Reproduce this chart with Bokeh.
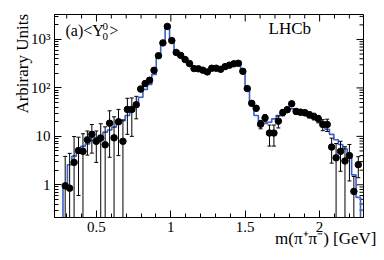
import numpy as np
from bokeh.plotting import figure
from bokeh.models import Range1d, FixedTicker, Label
from bokeh.embed import file_html
from bokeh.resources import INLINE

# ---- data: <Y_0^0> moment vs m(pi+ pi-) -------------------------------
m_first_edge = 0.275      # GeV, lower edge of first bin
bin_width = 0.02985       # GeV

moment_data = [0.95, 0.85, 2.9, 5.1, 4.9, 8.5, 11, 7.9, 9.2, 6.7,
               18.7, 9.3, 20, 7.9, 36, 36, 45, 95, 123, 144,
               231, 462, 850, 1860, 950, 540, 470, 385, 318, 251,
               248, 232, 214, 255, 255, 242, 275, 295, 315, 322,
               220, 97, 48, 38, 17.8, 24, 11.7, 11.7, 20.6, 31,
               35.5, 47, 32.7, 31.6, 30.7, 27.9, 25.8, 23, 17.6, 17.6,
               6.0, 3.6, 4.9, 3.1, 4.0, 0.73, 2.6]

moment_err = [2.9, 3.6, 7, 4.5, 6.4, 4.4, 6.5, 5, 9, 9,
              15, 16, 16, 14, 25, 26, 22, 12, 14, 14,
              18, 25, 35, 50, 35, 25, 22, 20, 18, 15,
              15, 14, 13, 14, 14, 14, 15, 15, 16, 16,
              14, 8, 5, 4.5, 3.5, 4, 5.4, 5.4, 5.7, 4.5,
              4.5, 5, 4, 4, 4, 4, 4, 4, 4.5, 5,
              3.2, 3.5, 3.0, 3.0, 2.8, 0.75, 1.2]

moment_fit = [0.95, 2.6, 3.9, 5.3, 6.2, 7.0, 8.2, 9.3, 10.4, 12.2,
              13.5, 15.5, 18, 21, 27, 35, 45, 64, 93, 118,
              190, 420, 830, 1850, 940, 530, 455, 375, 305, 255,
              240, 228, 222, 230, 240, 252, 268, 285, 300, 310,
              215, 100, 48, 27, 17.6, 18.5, 19.6, 23, 27, 31,
              35, 37, 36, 34, 31.5, 29, 26, 22.5, 18.5, 14,
              11, 8.5, 6.8, 5.5, 4.0, 1.6, 0.55]

x_major = [0.5, 1.0, 1.5, 2.0]
y_major = [1, 10, 100, 1000]
y_labels = {1: "1", 10: "10", 100: "10\u00b2", 1000: "10\u00b3"}

# ---- layout -----------------------------------------------------------
W, H = 384, 260
BL, BR, BT, BB = 54, 21, 14, 43
X0, X1 = 0.218, 2.295
Y0, Y1 = 0.211, 3280.0
MAJ, MIN = 7, 4
FONT = "Liberation Serif"

# ---- derived ------------------------------------------------------------
n = len(moment_data)
edges = m_first_edge + bin_width * np.arange(n + 1)
centers = 0.5 * (edges[:-1] + edges[1:])
data = np.array(moment_data, dtype=float)
err = np.array(moment_err, dtype=float)
floor = 1e-3
lo = np.where(data - err > 0, data - err, floor)
hi = data + err

step_x = np.repeat(edges, 2)
step_y = np.concatenate([[floor], np.repeat(np.array(moment_fit, float), 2), [floor]])

x_minor = [round(0.1 * i, 1) for i in range(3, 23) if round(0.1 * i, 1) not in x_major]
y_minor = [m * 10.0 ** e for e in range(-1, 4) for m in range(2, 10)]

p = figure(width=W, height=H,
           x_range=Range1d(X0, X1), y_range=Range1d(Y0, Y1),
           y_axis_type="log", output_backend="svg", toolbar_location=None,
           min_border_left=BL, min_border_right=BR, min_border_top=BT,
           min_border_bottom=BB)
p.xgrid.visible = False
p.ygrid.visible = False
p.outline_line_color = "black"
p.outline_line_width = 1
p.background_fill_color = "white"
p.border_fill_color = "white"

xt = FixedTicker(ticks=x_major, minor_ticks=x_minor)
yt = FixedTicker(ticks=y_major, minor_ticks=y_minor)

for ax in (p.xaxis[0], p.yaxis[0]):
    ax.major_tick_in = MAJ
    ax.major_tick_out = 0
    ax.minor_tick_in = MIN
    ax.minor_tick_out = 0
    ax.axis_line_color = "black"
    ax.major_tick_line_color = "black"
    ax.minor_tick_line_color = "black"
    ax.major_label_text_font = FONT
    ax.major_label_text_color = "black"
    ax.major_label_text_font_size = "15px"
    ax.major_label_standoff = 4
p.xaxis[0].ticker = xt
p.yaxis[0].ticker = yt
p.yaxis[0].major_label_overrides = y_labels

# mirrored ticks on the top and right edges of the frame
fw = W - BL - BR
fh = H - BT - BB
px_per_x = fw / (X1 - X0)
px_per_dec = fh / np.log10(Y1 / Y0)
tx = list(x_major) + list(x_minor)
tlen = [MAJ] * len(x_major) + [MIN] * len(x_minor)
p.segment(x0=tx, y0=[Y1] * len(tx), x1=tx,
          y1=[Y1 / 10 ** (l / px_per_dec) for l in tlen], line_color="black", line_width=1)
ty = list(y_major) + [v for v in y_minor if Y0 <= v <= Y1]
tlen = [MAJ] * len(y_major) + [MIN] * (len(ty) - len(y_major))
p.segment(x0=[X1] * len(ty), y0=ty, x1=[X1 - l / px_per_x for l in tlen], y1=ty,
          line_color="black", line_width=1)

# fit histogram
p.line(step_x, step_y, line_color="#3b5fc7", line_width=1.6)

# error bars with small caps
p.segment(x0=centers, y0=lo, x1=centers, y1=hi, line_color="black", line_width=1)
p.scatter(centers, hi, marker="dash", size=4, line_color="black", line_width=1)
p.scatter(centers, lo, marker="dash", size=4, line_color="black", line_width=1)

# data points
p.scatter(centers, data, marker="circle", size=6.5, fill_color="black", line_color="black")


# texts (screen units relative to the panel, origin bottom-left)
def lab(text, x, y, size, align="left", angle=0.0, place="center"):
    lb = Label(x=x, y=y, x_units="screen", y_units="screen", text=text,
               text_font=FONT, text_font_size=size, text_color="black",
               text_align=align, text_baseline="alphabetic", angle=angle)
    p.add_layout(lb, place)


lab("(a)<Y", 11, 187.5, "16px")
lab("0", 48, 191.5, "11px")
lab("0", 48, 181.5, "11px")
lab(">", 55, 187.5, "16px")
lab("LHCb", 214, 189.5, "17px")
lab("Arbirary Units", 12.5, 203.5, "17px", align="right", angle=np.pi / 2, place="left")
lab("m(\u03c0\u207a\u03c0\u207b) [GeV]", 322, 15, "17px", align="right", place="below")

open("out.html", "w").write(file_html(p, INLINE))
